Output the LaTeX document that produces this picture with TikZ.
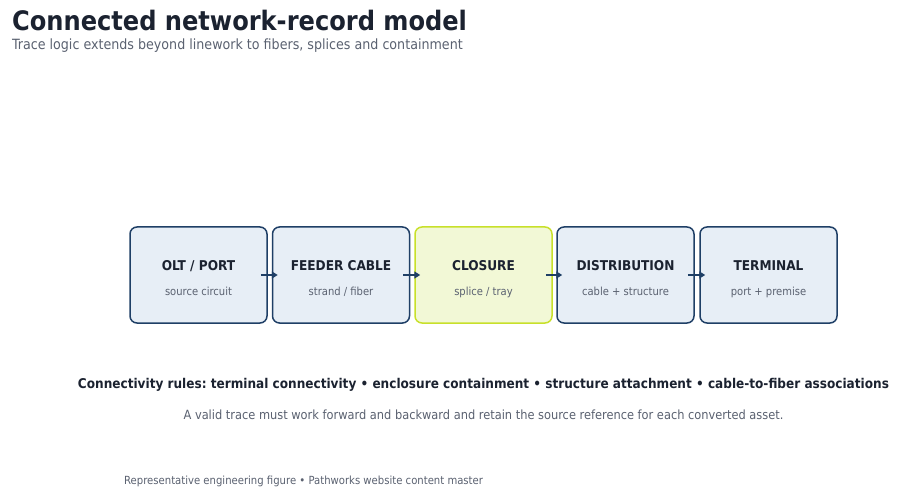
\documentclass[tikz,border=0pt]{standalone}
\usepackage{fontspec}
\setmainfont{DejaVu Sans Condensed}
\usetikzlibrary{arrows.meta}
\definecolor{navy}{HTML}{1F3F66}
\definecolor{boxfill}{HTML}{E7EEF6}
\definecolor{limeb}{HTML}{C8E02A}
\definecolor{limef}{HTML}{F2F8D6}
\definecolor{ink}{HTML}{1B2230}
\definecolor{grayt}{HTML}{5A6170}
\frenchspacing
\begin{document}
\begin{tikzpicture}[x=1bp,y=-1bp,
  stage/.style={draw=navy,fill=boxfill,line width=1.5bp,rounded corners=7bp,minimum width=137bp,minimum height=96bp,inner sep=0pt},
  hot/.style={stage,draw=limeb,fill=limef},
  ttl/.style={font=\bfseries\fontsize{13.5bp}{15bp}\selectfont,text=ink},
  sub/.style={font=\fontsize{11.1bp}{13bp}\selectfont,text=grayt},
  flow/.style={draw=navy,line width=2bp,-{Triangle[length=6bp,width=7bp]}}]
\useasboundingbox (0,0) rectangle (900,503);
\node[anchor=base west,inner sep=0pt,font=\bfseries\fontsize{26.8bp}{30bp}\selectfont,text=ink] (title) at (12,31) {Connected network-record model};
\node[anchor=base west,inner sep=0pt,font=\fontsize{14.1bp}{16bp}\selectfont,text=grayt] (subtitle) at (12,50) {Trace logic extends beyond linework to fibers, splices and containment};
\foreach \n/\x/\s/\a/\b in {b1/198.5/stage/{OLT / PORT}/{source circuit},b2/341/stage/{FEEDER CABLE}/{strand / fiber},b3/483.5/hot/{CLOSURE}/{splice / tray},b4/625.5/stage/{DISTRIBUTION}/{cable + structure},b5/768.5/stage/{TERMINAL}/{port + premise}}{
  \node[\s] (\n) at (\x,275) {};
  \node[ttl,anchor=base] (\n t) at (\x,271) {\a};
  \node[sub,anchor=base] (\n s) at (\x,296) {\b};
}
\foreach \p/\q in {b1/b2,b2/b3,b3/b4,b4/b5}{
  \draw[flow] ([xshift=-7bp]\p.east) -- ([xshift=6bp]\q.west);
}
\node[anchor=base,font=\bfseries\fontsize{13.45bp}{15bp}\selectfont,text=ink] (rules) at (483.5,388.5) {Connectivity rules: terminal connectivity • enclosure containment • structure attachment • cable-to-fiber associations};
\node[anchor=base,font=\fontsize{12.68bp}{15bp}\selectfont,text=grayt] (valid) at (483.5,419) {A valid trace must work forward and backward and retain the source reference for each converted asset.};
\node[anchor=base west,inner sep=0pt,font=\fontsize{11.2bp}{13bp}\selectfont,text=grayt] (foot) at (124,484) {Representative engineering figure • Pathworks website content master};
\end{tikzpicture}
\end{document}
